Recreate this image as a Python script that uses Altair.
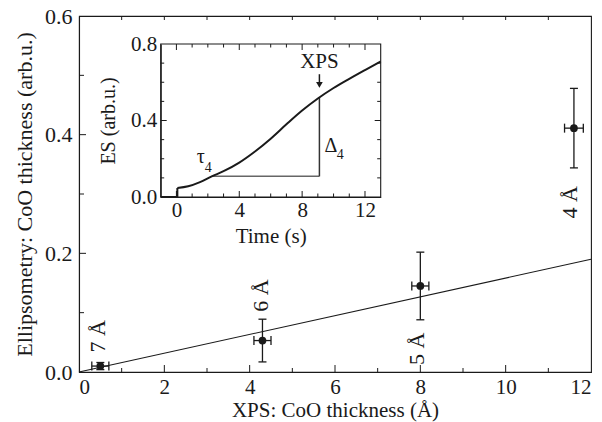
import altair as alt
import pandas as pd

FONT = "Liberation Serif, Times New Roman, Times, serif"
INK = "#1a1a1a"

# ---------------- main panel data ----------------
xps_thickness = [0.5, 4.3, 8.0, 11.6]
ell_thickness = [0.010, 0.053, 0.145, 0.411]
xps_error = [0.20, 0.20, 0.20, 0.22]
ell_error = [0.006, 0.036, 0.057, 0.067]
sample_labels = ["7 Å", "6 Å", "5 Å", "4 Å"]
label_x = [0.445, 4.27, 7.92, 11.5]
label_y = [0.060, 0.129, 0.039, 0.286]
fit_x = [0, 12]
fit_y = [0, 0.19]
main_x_domain = [0, 12]
main_y_domain = [0, 0.6]
main_x_labels = [0, 2, 4, 6, 8, 10, 12]
main_y_labels = [0.0, 0.2, 0.4, 0.6]
main_x_ticks = [1, 2, 3, 4, 5, 6, 7, 8, 9, 10, 11]
main_y_ticks = [0.1, 0.2, 0.3, 0.4, 0.5]

# ---------------- inset data ----------------
time_s = [0.06, 0.75, 1.5, 2.25, 3, 4, 5, 6, 7, 8, 9, 10, 11, 12, 13]
es_signal = [0.047, 0.056, 0.078, 0.108, 0.135, 0.180, 0.238, 0.305, 0.380,
             0.452, 0.515, 0.570, 0.618, 0.664, 0.709]
pre_time = [-1, 0.06, 0.06]
pre_es = [0, 0, 0.047]
tau_time, xps_time = 2.25, 9.1
tau_es, xps_es = 0.108, 0.520
arrow_from, arrow_to, arrow_head = 0.642, 0.60, 0.586
xps_text_es = 0.705
inset_x_domain = [-1, 13]
inset_y_domain = [0, 0.8]
inset_x_labels = [0, 4, 8, 12]
inset_y_labels = [0.0, 0.4, 0.8]
inset_x_ticks = list(range(0, 13))
inset_y_ticks = [0.1, 0.2, 0.3, 0.4, 0.5, 0.6, 0.7]

# ---------------- geometry ----------------
W, H = 512, 356
IN_L, IN_R, IN_T, IN_B = 81.7, 301.7, 28, 181

sx = alt.Scale(domain=main_x_domain, nice=False, zero=False)
sy = alt.Scale(domain=main_y_domain, nice=False, zero=False)
sxi = alt.Scale(domain=inset_x_domain, range=[IN_L, IN_R], nice=False, zero=False)
syi = alt.Scale(domain=inset_y_domain, range=[IN_B, IN_T], nice=False, zero=False)

ax_x = alt.Axis(values=main_x_labels, format="d", title="XPS: CoO thickness (Å)",
                labelFontSize=21, titleFontSize=21, labelPadding=4, titlePadding=2)
ax_y = alt.Axis(values=main_y_labels, format=".1f",
                title="Ellipsometry: CoO thickness (arb.u.)",
                labelFontSize=22, titleFontSize=22, labelPadding=7, titlePadding=8)
ax_xi = alt.Axis(values=inset_x_labels, format="d", title="Time (s)", orient="bottom",
                 offset=-(H - IN_B), labelFontSize=21, titleFontSize=21,
                 labelPadding=2, titlePadding=5)
ax_yi = alt.Axis(values=inset_y_labels, format=".1f", title="ES (arb.u.)", orient="left",
                 offset=-IN_L, labelFontSize=21, titleFontSize=20,
                 labelPadding=4, titlePadding=12)

X = lambda f: alt.X(f, type="quantitative", scale=sx, axis=ax_x)
Y = lambda f: alt.Y(f, type="quantitative", scale=sy, axis=ax_y)
XI = lambda f: alt.X(f, type="quantitative", scale=sxi, axis=ax_xi)
YI = lambda f: alt.Y(f, type="quantitative", scale=syi, axis=ax_yi)

# ---------------- main tables ----------------
pts = pd.DataFrame({
    "x": xps_thickness, "y": ell_thickness,
    "xlo": [a - b for a, b in zip(xps_thickness, xps_error)],
    "xhi": [a + b for a, b in zip(xps_thickness, xps_error)],
    "ylo": [a - b for a, b in zip(ell_thickness, ell_error)],
    "yhi": [a + b for a, b in zip(ell_thickness, ell_error)],
})
vcaps = pd.DataFrame({"x": xps_thickness * 2, "y": list(pts["ylo"]) + list(pts["yhi"])})
hcaps = pd.DataFrame({"x": list(pts["xlo"]) + list(pts["xhi"]), "y": ell_thickness * 2})
labs = pd.DataFrame({"x": label_x, "y": label_y, "t": sample_labels})
fit = pd.DataFrame({"x": fit_x, "y": fit_y})

mx_px = (main_x_domain[1] - main_x_domain[0]) / W
my_px = (main_y_domain[1] - main_y_domain[0]) / H
rows = []
for v in main_x_ticks:
    ln = 7 if v % 2 == 0 else 4
    rows.append((v, v, main_y_domain[0], main_y_domain[0] + ln * my_px))
    rows.append((v, v, main_y_domain[1], main_y_domain[1] - 4 * my_px))
for v in main_y_ticks:
    ln = 7 if round(v * 10) % 2 == 0 else 5
    rows.append((main_x_domain[0], main_x_domain[0] + ln * mx_px, v, v))
mticks = pd.DataFrame(rows, columns=["x", "x2", "y", "y2"])

main = alt.layer(
    alt.Chart(fit).mark_line(color=INK, strokeWidth=1.1).encode(x=X("x"), y=Y("y")),
    alt.Chart(mticks).mark_rule(color=INK, strokeWidth=1).encode(
        x=X("x"), x2="x2", y=Y("y"), y2="y2"),
    alt.Chart(pts).mark_rule(color=INK, strokeWidth=1.3).encode(x=X("x"), y=Y("ylo"), y2="yhi"),
    alt.Chart(pts).mark_rule(color=INK, strokeWidth=1.3).encode(x=X("xlo"), x2="xhi", y=Y("y")),
    alt.Chart(vcaps).mark_tick(orient="horizontal", size=8, thickness=1.3, color=INK,
                               opacity=1).encode(x=X("x"), y=Y("y")),
    alt.Chart(hcaps).mark_tick(orient="vertical", size=9, thickness=1.3, color=INK,
                               opacity=1).encode(x=X("x"), y=Y("y")),
    alt.Chart(pts).mark_circle(size=60, color=INK, opacity=1).encode(x=X("x"), y=Y("y")),
    alt.Chart(labs).mark_text(angle=270, font=FONT, fontSize=22, color=INK,
                              align="center", baseline="middle").encode(
        x=X("x"), y=Y("y"), text="t:N"),
)

# ---------------- inset tables ----------------
ix_px = (inset_x_domain[1] - inset_x_domain[0]) / (IN_R - IN_L)
iy_px = (inset_y_domain[1] - inset_y_domain[0]) / (IN_B - IN_T)
rows = []
for v in inset_x_ticks:
    ln = 6 if v in inset_x_labels else 3.5
    rows.append((v, v, inset_y_domain[0], inset_y_domain[0] + ln * iy_px))
    rows.append((v, v, inset_y_domain[1], inset_y_domain[1] - ln * iy_px))
for v in inset_y_ticks:
    ln = 6 if v in inset_y_labels else 3.5
    rows.append((inset_x_domain[0], inset_x_domain[0] + ln * ix_px, v, v))
    rows.append((inset_x_domain[1], inset_x_domain[1] - ln * ix_px, v, v))
iticks = pd.DataFrame(rows, columns=["x", "x2", "y", "y2"])

curve = pd.DataFrame({"x": time_s, "y": es_signal})
pre = pd.DataFrame({"x": pre_time, "y": pre_es, "i": list(range(len(pre_time)))})
box = pd.DataFrame({"x": [inset_x_domain[0]], "x2": [inset_x_domain[1]],
                    "y": [inset_y_domain[0]], "y2": [inset_y_domain[1]]})
hline = pd.DataFrame({"x": [tau_time], "x2": [xps_time], "y": [tau_es]})
vline = pd.DataFrame({"x": [xps_time], "y": [tau_es], "y2": [xps_es]})
arrow = pd.DataFrame({"x": [xps_time], "y": [arrow_from], "y2": [arrow_to]})
head = pd.DataFrame({"x": [xps_time], "y": [arrow_head]})
big_txt = pd.DataFrame({"x": [xps_time, 1.55, 9.83], "y": [xps_text_es, 0.176, 0.237],
                        "t": ["XPS", "τ", "Δ"]})
sub_txt = pd.DataFrame({"x": [2.03, 10.43], "y": [0.132, 0.199], "t": ["4", "4"]})

inset = alt.layer(
    alt.Chart(box).mark_rect(fill=None, stroke=INK, strokeWidth=1.1).encode(
        x=XI("x"), x2="x2", y=YI("y"), y2="y2"),
    alt.Chart(iticks).mark_rule(color=INK, strokeWidth=1).encode(
        x=XI("x"), x2="x2", y=YI("y"), y2="y2"),
    alt.Chart(hline).mark_rule(color="#666666", strokeWidth=1.5).encode(
        x=XI("x"), x2="x2", y=YI("y")),
    alt.Chart(vline).mark_rule(color="#333333", strokeWidth=1.5).encode(
        x=XI("x"), y=YI("y"), y2="y2"),
    alt.Chart(pre).mark_line(color=INK, strokeWidth=2).encode(
        x=XI("x"), y=YI("y"), order="i:Q"),
    alt.Chart(curve).mark_line(color=INK, strokeWidth=2, interpolate="monotone").encode(
        x=XI("x"), y=YI("y")),
    alt.Chart(arrow).mark_rule(color=INK, strokeWidth=1.5).encode(
        x=XI("x"), y=YI("y"), y2="y2"),
    alt.Chart(head).mark_point(shape="triangle-down", size=45, filled=True, color=INK,
                               opacity=1).encode(x=XI("x"), y=YI("y")),
    alt.Chart(big_txt).transform_filter("datum.t == 'XPS'").mark_text(
        font=FONT, fontSize=21, color=INK, align="center", baseline="middle").encode(
        x=XI("x"), y=YI("y"), text="t:N"),
    alt.Chart(big_txt).transform_filter("datum.t != 'XPS'").mark_text(
        font=FONT, fontSize=20, color=INK, align="center", baseline="alphabetic").encode(
        x=XI("x"), y=YI("y"), text="t:N"),
    alt.Chart(sub_txt).mark_text(font=FONT, fontSize=14, color=INK, align="center",
                                 baseline="alphabetic").encode(
        x=XI("x"), y=YI("y"), text="t:N"),
)

chart = alt.layer(main, inset).resolve_scale(
    x="independent", y="independent"
).resolve_axis(
    x="independent", y="independent"
).properties(
    width=W, height=H,
    autosize=alt.AutoSizeParams(type="none"),
    padding={"left": 79, "top": 16, "right": 11, "bottom": 50},
    background="white",
).configure_view(
    stroke=INK, strokeWidth=1.1
).configure_axis(
    labelFont=FONT, titleFont=FONT, labelColor=INK, titleColor=INK,
    domainColor=INK, domainWidth=1.1, grid=False, ticks=False, tickSize=0,
    titleFontWeight="normal",
)

chart.save("out.html", embed_options={"renderer": "svg", "actions": False})
